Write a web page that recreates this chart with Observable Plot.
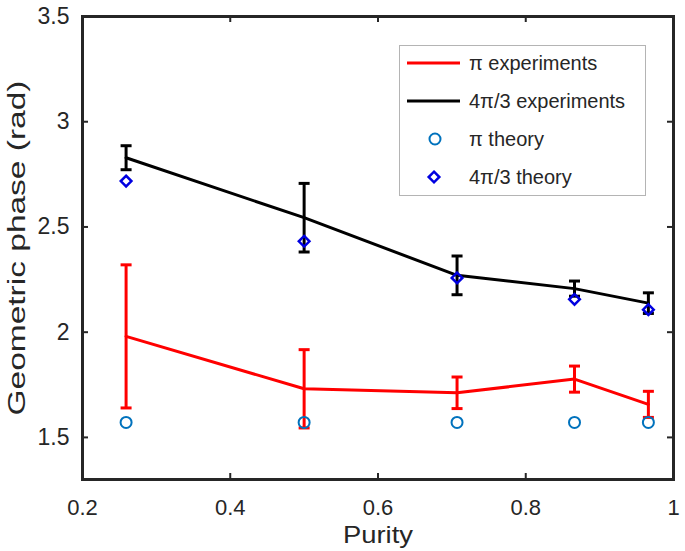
<!DOCTYPE html>
<html>
<head>
<meta charset="utf-8">
<script src="https://cdn.jsdelivr.net/npm/d3@7"></script>
<script src="https://cdn.jsdelivr.net/npm/@observablehq/plot@0.6"></script>
<style>
  html, body { margin: 0; padding: 0; background: #fff; }
  #wrap { position: relative; width: 685px; height: 551px; font-family: "Liberation Sans", Arial, sans-serif; }
  #legend { position: absolute; left: 399px; top: 45px; }
</style>
</head>
<body>
<div id="wrap"></div>
<script>
// ---- data ----
const purity = [0.259, 0.5, 0.707, 0.866, 0.966];
const piExp = [1.98, 1.731, 1.712, 1.777, 1.657];
const piErr = [0.34, 0.186, 0.075, 0.062, 0.062];
const fourPiExp = [2.829, 2.544, 2.27, 2.207, 2.138];
const fourPiErr = [0.057, 0.163, 0.092, 0.036, 0.049];
const piTheory = [1.571, 1.571, 1.571, 1.571, 1.571];
const fourPiTheory = [2.718, 2.432, 2.258, 2.156, 2.107];
const xTicks = [0.2, 0.4, 0.6, 0.8, 1];
const yTicks = [1.5, 2, 2.5, 3, 3.5];
const xDomain = [0.2, 1];
const yDomain = [1.3, 3.5];
const xLabel = "Purity";
const yLabel = "Geometric phase (rad)";
const legendLabels = ["π experiments", "4π/3 experiments", "π theory", "4π/3 theory"];

// ---- build tables ----
const piRows = purity.map((p, i) => ({x: p, y: piExp[i], lo: piExp[i] - piErr[i], hi: piExp[i] + piErr[i]}));
const fourRows = purity.map((p, i) => ({x: p, y: fourPiExp[i], lo: fourPiExp[i] - fourPiErr[i], hi: fourPiExp[i] + fourPiErr[i]}));
const piTh = purity.map((p, i) => ({x: p, y: piTheory[i]}));
const fourTh = purity.map((p, i) => ({x: p, y: fourPiTheory[i]}));

const W = 685, H = 551;
const mL = 82, mR = 12, mT = 16, mB = 72;
const fw = W - mL - mR, fh = H - mT - mB;
const axisColor = "#262626";
const RED = "#ff0000", BLACK = "#000000", CIRC = "#0072bd", DIAM = "#0000e0";
const FONT = '"Liberation Sans", Arial, sans-serif';

const capSymbol = {
  draw(context, size) {
    const w = Math.sqrt(size / Math.PI);
    context.moveTo(-w, 0);
    context.lineTo(w, 0);
  }
};

function errorMarks(rows, color) {
  return [
    Plot.ruleX(rows, {x: "x", y1: "lo", y2: "hi", stroke: color, strokeWidth: 3}),
    Plot.dot(rows, {x: "x", y: "hi", symbol: capSymbol, r: 5.5, fill: "none", stroke: color, strokeWidth: 3}),
    Plot.dot(rows, {x: "x", y: "lo", symbol: capSymbol, r: 5.5, fill: "none", stroke: color, strokeWidth: 3}),
    Plot.line(rows, {x: "x", y: "y", stroke: color, strokeWidth: 3, strokeLinejoin: "round"})
  ];
}

const xInner = xTicks.filter(t => t > xDomain[0] && t < xDomain[1]);
const yInner = yTicks.filter(t => t > yDomain[0] && t < yDomain[1]);

const chart = Plot.plot({
  width: W,
  height: H,
  marginLeft: mL,
  marginRight: mR,
  marginTop: mT,
  marginBottom: mB,
  style: {fontFamily: FONT, background: "#fff", color: axisColor},
  x: {domain: xDomain},
  y: {domain: yDomain},
  marks: [
    ...errorMarks(piRows, RED),
    ...errorMarks(fourRows, BLACK),
    Plot.dot(piTh, {x: "x", y: "y", r: 5.5, fill: "none", stroke: CIRC, strokeWidth: 2}),
    Plot.dot(fourTh, {x: "x", y: "y", symbol: "diamond2", r: 4.8, fill: "none", stroke: DIAM, strokeWidth: 2.5}),
    // inward ticks
    Plot.tickX(xInner, {x: d => d, insetTop: fh - 6, stroke: axisColor, strokeWidth: 2}),
    Plot.tickX(xInner, {x: d => d, insetBottom: fh - 6, stroke: axisColor, strokeWidth: 2}),
    Plot.tickY(yInner, {y: d => d, insetRight: fw - 6, stroke: axisColor, strokeWidth: 2}),
    Plot.tickY(yInner, {y: d => d, insetLeft: fw - 6, stroke: axisColor, strokeWidth: 2}),
    Plot.frame({stroke: axisColor, strokeWidth: 3}),
    Plot.axisX(xTicks, {tickSize: 0, tickPadding: 20, fontSize: 22, tickFormat: d => String(d), label: null, fill: axisColor}),
    Plot.axisY(yTicks, {tickSize: 0, tickPadding: 13, fontSize: 23, tickFormat: d => String(d), label: null, fill: axisColor}),
    Plot.text([xLabel], {frameAnchor: "bottom", textAnchor: "middle", lineAnchor: "middle", dy: 56, fontSize: 24, fill: axisColor}),
    Plot.text([yLabel], {frameAnchor: "left", textAnchor: "middle", dx: -65, rotate: -90, fontSize: 23, fill: axisColor})
  ]
});

// stretch axis titles to the reference's proportions
d3.select(chart).selectAll("text").each(function() {
  if (this.textContent === yLabel) {
    d3.select(this).attr("textLength", 335).attr("lengthAdjust", "spacingAndGlyphs");
  } else if (this.textContent === xLabel) {
    d3.select(this).attr("textLength", 70).attr("lengthAdjust", "spacingAndGlyphs");
  }
});

const wrap = document.getElementById("wrap");
wrap.appendChild(chart);

// ---- legend overlay ----
const lw = 247, lh = 151, rowY = [18, 56, 94, 132];
const leg = d3.select(wrap).append("svg")
  .attr("id", "legend")
  .attr("width", lw).attr("height", lh)
  .style("font-family", FONT);
leg.append("rect").attr("x", 0.5).attr("y", 0.5).attr("width", lw - 1).attr("height", lh - 1)
  .attr("fill", "#fff").attr("stroke", "#b4b4b4").attr("stroke-width", 1);
const samples = [
  {type: "line", color: RED},
  {type: "line", color: BLACK},
  {type: "circle", color: CIRC},
  {type: "diamond", color: DIAM}
];
samples.forEach((s, i) => {
  const y = rowY[i];
  if (s.type === "line") {
    leg.append("line").attr("x1", 8).attr("x2", 61).attr("y1", y).attr("y2", y)
      .attr("stroke", s.color).attr("stroke-width", 3);
  } else if (s.type === "circle") {
    leg.append("circle").attr("cx", 36).attr("cy", y).attr("r", 5.5)
      .attr("fill", "none").attr("stroke", s.color).attr("stroke-width", 2);
  } else {
    leg.append("path").attr("transform", `translate(35,${y})`)
      .attr("d", d3.symbol(d3.symbolDiamond2, 4.8 * 4.8 * Math.PI)())
      .attr("fill", "none").attr("stroke", s.color).attr("stroke-width", 2.5);
  }
  leg.append("text").attr("x", 70).attr("y", y).attr("dy", "0.35em")
    .attr("font-size", 20).attr("fill", "#262626").text(legendLabels[i]);
});
</script>
</body>
</html>
